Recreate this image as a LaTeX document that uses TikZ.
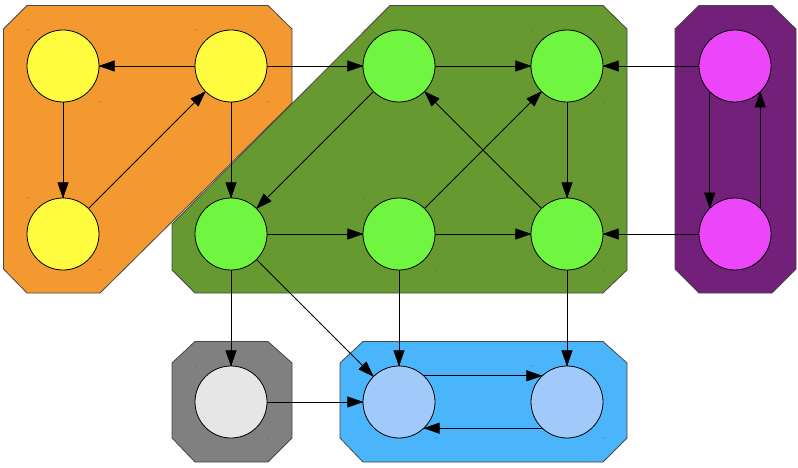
\documentclass[tikz,border=0pt]{standalone}
\usetikzlibrary{calc}
\definecolor{orangecl}{RGB}{243,153,48}
\definecolor{greencl}{RGB}{102,153,48}
\definecolor{purplecl}{RGB}{115,32,122}
\definecolor{greycl}{RGB}{128,128,128}
\definecolor{bluecl}{RGB}{74,181,250}
\definecolor{yellownd}{RGB}{255,252,64}
\definecolor{greennd}{RGB}{112,245,64}
\definecolor{magentand}{RGB}{237,70,250}
\definecolor{greynd}{RGB}{230,230,230}
\definecolor{bluend}{RGB}{161,202,250}
\tikzset{
  cluster/.style={draw={rgb,255:red,70;green,70;blue,70}, line width=0.8pt, line join=miter},
  vertex/.style={circle, draw=black, line width=0.8pt, minimum size=72pt, inner sep=0pt},
  edge/.style={draw=black, line width=0.8pt},
  head/.style={fill=black, draw=black, line width=0.5pt, line join=miter},
  speck/.style={fill=black!70, opacity=0.8}
}
% filled triangular head with its tip at coordinate #1, pointing away from coordinate #2
\newcommand{\headat}[2]{%
  \filldraw[head] (#1) -- ($(#1)!15pt!(#2)!5.25pt!90:(#2)$) -- ($(#1)!15pt!(#2)!5.25pt!-90:(#2)$) -- cycle;}
\begin{document}
\begin{tikzpicture}[x=1pt,y=-1pt]
\path[use as bounding box] (0,0) rectangle (798,468);

% clusters
\fill[orangecl, cluster] (3.5,29) -- (27,5.5) -- (268,5.5) -- (292,29) -- (292,103) -- (100,293) -- (27,293) -- (3.5,269) -- cycle;
\fill[greencl, cluster] (172,224) -- (390,5.5) -- (603,5.5) -- (627,29) -- (627,270) -- (603,293) -- (195,293) -- (172,270) -- cycle;
\fill[purplecl, cluster] (675,29) -- (699,5.5) -- (772,5.5) -- (796,29) -- (796,269) -- (772,293) -- (699,293) -- (675,269) -- cycle;
\fill[greycl, cluster] (172,363) -- (195,341.5) -- (268,341.5) -- (292,363) -- (292,438) -- (268,462) -- (195,462) -- (172,438) -- cycle;
\fill[bluecl, cluster] (340,363) -- (363,341.5) -- (603,341.5) -- (627,363) -- (627,438) -- (603,462) -- (363,462) -- (340,438) -- cycle;

% small marks at the corners of each node box
\foreach \cx/\cy in {63/66,231/66,63/234,399/66,567/66,231/234,399/234,567/234,735/66,735/234,231/402,399/402,567/402}{
  \fill[speck] (\cx-35,\cy-36) circle (0.6pt);
  \fill[speck] (\cx+37,\cy+36) circle (0.6pt);
}

% nodes
\node[vertex, fill=yellownd] (a) at (63,66) {};
\node[vertex, fill=yellownd] (b) at (231,66) {};
\node[vertex, fill=yellownd] (c) at (63,234) {};
\node[vertex, fill=greennd] (d) at (399,66) {};
\node[vertex, fill=greennd] (e) at (567,66) {};
\node[vertex, fill=greennd] (f) at (231,234) {};
\node[vertex, fill=greennd] (g) at (399,234) {};
\node[vertex, fill=greennd] (h) at (567,234) {};
\node[vertex, fill=magentand] (i) at (735,66) {};
\node[vertex, fill=magentand] (j) at (735,234) {};
\node[vertex, fill=greynd] (k) at (231,402) {};
\node[vertex, fill=bluend] (l) at (399,402) {};
\node[vertex, fill=bluend] (m) at (567,402) {};

% edges: shaft from the source border to the target border, head at the target
\foreach \s/\t in {b/a, a/c, c/b, b/d, b/f, d/e, d/f, e/h, g/e, h/d, f/g, g/h, i/e, j/h, f/k, f/l, g/l, h/m, k/l}{
  \coordinate (sp) at (\s.center);
  \coordinate (tp) at ($(\t.center)!36.4pt!(\s.center)$);
  \draw[edge] (\s) -- (tp);
  \headat{tp}{sp}
}
% paired edges drawn with a sideways offset
\foreach \s/\sa/\t/\ta in {i/-134/j/134, j/46/i/-46, l/46/m/134, m/-134/l/-46}{
  \coordinate (sp) at (\s.\sa);
  \coordinate (tp) at (\t.\ta);
  \draw[edge] (sp) -- (tp);
  \headat{tp}{sp}
}
\end{tikzpicture}
\end{document}
